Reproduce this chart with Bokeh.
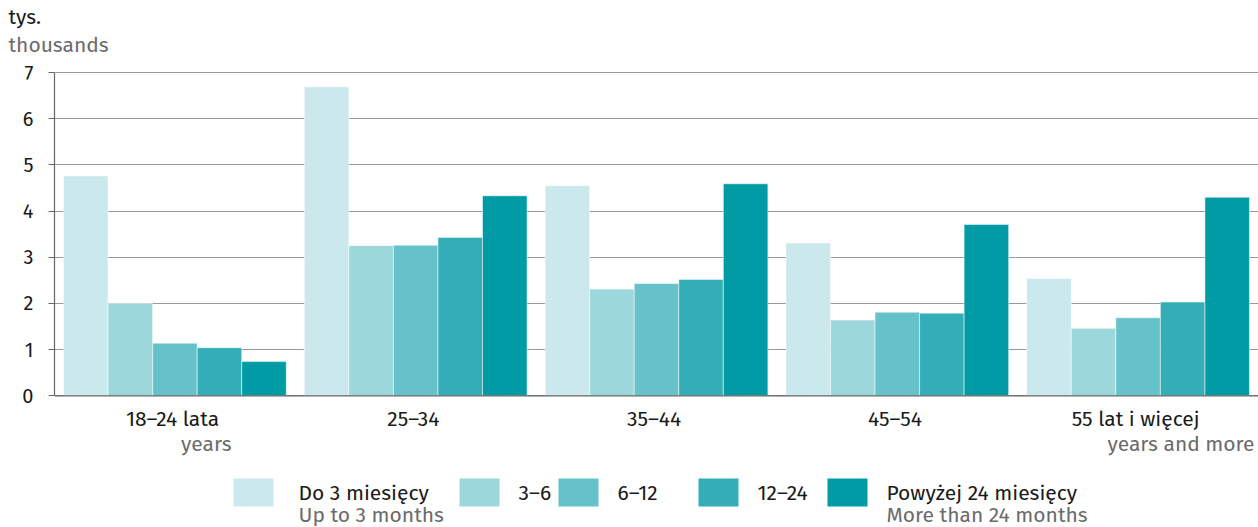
from bokeh.plotting import figure
from bokeh.models import Range1d, FixedTicker, ColumnDataSource, Title, Span
from bokeh.core.properties import value
from bokeh.embed import file_html
from bokeh.resources import INLINE

# ---------------- data ----------------
categories = ["18–24 lata", "25–34", "35–44", "45–54", "55 lat i więcej"]
category_sub = ["years", "", "", "", "years and more"]
series_pl = ["Do 3 miesięcy", "3–6", "6–12", "12–24", "Powyżej 24 miesięcy"]
series_en = ["Up to 3 months", "", "", "", "More than 24 months"]
up_to_3 = [4.76, 6.69, 4.55, 3.31, 2.54]
m3_6 = [2.00, 3.25, 2.31, 1.64, 1.46]
m6_12 = [1.14, 3.26, 2.43, 1.81, 1.69]
m12_24 = [1.04, 3.43, 2.52, 1.79, 2.03]
over_24 = [0.74, 4.33, 4.59, 3.71, 4.30]
y_ticks = [0, 1, 2, 3, 4, 5, 6, 7]
unit_pl = "tys."
unit_en = "thousands"

# ---------------- style / layout (page pixels) ----------------
colors = ["#CBE9EC", "#9BD7DB", "#66C2C9", "#33AEB7", "#009BA5"]
FONT = "Fira Sans, Noto Sans"
FS = "21px"
BLACK = "#1a1a1a"
GREY_TXT = "#6b6b6b"
GRID = "#999999"
AXIS = "#666666"
W, H = 1258, 527
AX_X = 54          # y-axis line
FRAME_TOP = 57     # top of plotting frame
Y7_PX, Y0_PX = 72, 395.3
BAR_W = 0.185

series = [up_to_3, m3_6, m6_12, m12_24, over_24]
n = len(categories)
ymax = y_ticks[-1]
px_per_unit = (Y0_PX - Y7_PX) / ymax
px_per_x = (W - AX_X) / n

def xd(page_x):
    return (page_x - AX_X) / px_per_x

def yd(page_y):
    return (Y0_PX - page_y) / px_per_unit

p = figure(width=W, height=H, output_backend="svg", toolbar_location=None,
           x_range=Range1d(0, n), y_range=Range1d(yd(H), yd(FRAME_TOP)),
           min_border_left=AX_X, min_border_right=0, min_border_top=FRAME_TOP,
           min_border_bottom=0)
p.outline_line_color = None

# bars
for j, vals in enumerate(series):
    xs = [i + 0.5 + (j - 2) * BAR_W for i in range(n)]
    src = ColumnDataSource(dict(x=xs, top=vals))
    p.vbar(x="x", top="top", width=BAR_W, bottom=0, source=src,
           fill_color=colors[j], line_color="white", line_alpha=0.5, line_width=1)

# x axis hidden; baseline at zero drawn as a span
p.xaxis.visible = False
p.xgrid.grid_line_color = None
p.add_layout(Span(location=0, dimension="width", line_color=AXIS, line_width=1.2))

# y axis
p.yaxis.ticker = FixedTicker(ticks=y_ticks)
p.yaxis.bounds = (0, ymax)
p.yaxis.axis_line_color = AXIS
p.yaxis.axis_line_width = 1.2
p.yaxis.major_tick_line_color = AXIS
p.yaxis.major_tick_out = 6
p.yaxis.major_tick_in = 0
p.yaxis.minor_tick_line_color = None
p.yaxis.major_label_text_font = FONT
p.yaxis.major_label_text_font_size = "20px"
p.yaxis.major_label_text_color = BLACK
p.yaxis.major_label_standoff = 15
p.ygrid.grid_line_color = GRID
p.ygrid.grid_line_width = 1

# unit titles (top left): the figure title is the outer one
p.title.text = unit_pl
p.title.align = "left"
p.title.offset = 8 - AX_X
p.title.text_font = FONT
p.title.text_font_size = FS
p.title.text_font_style = "normal"
p.title.text_color = BLACK
p.title.standoff = 0
t2 = Title(text=unit_en, align="left", offset=8 - AX_X, text_font=FONT,
           text_font_size=FS, text_font_style="normal", text_color=GREY_TXT, standoff=0)
p.add_layout(t2, "above")

# category labels
p.text(x=[i + 0.5 - 0.01 for i in range(n)], y=[yd(418)] * n, text=categories,
       text_font=value(FONT), text_font_size=FS, text_color=BLACK,
       text_align="center", text_baseline="middle")
sub_right = [231, None, None, None, 1254]
sub_x = [xd(sub_right[i]) for i in range(n) if category_sub[i]]
sub_t = [s for s in category_sub if s]
p.text(x=sub_x, y=[yd(443)] * len(sub_t), text=sub_t,
       text_font=value(FONT), text_font_size=FS, text_color=GREY_TXT,
       text_align="right", text_baseline="middle")

# legend (drawn inside the frame below the axis)
sq_left = [233, 459, 558, 698, 827]
txt_left = [298, 518, 617, 757, 886]
sq_w, sq_top, sq_bot = 40, 478, 506
p.quad(left=[xd(x) for x in sq_left], right=[xd(x + sq_w) for x in sq_left],
       bottom=[yd(sq_bot)] * n, top=[yd(sq_top)] * n,
       fill_color=colors, line_color=None)
p.text(x=[xd(x) for x in txt_left], y=[yd(492)] * n, text=series_pl,
       text_font=value(FONT), text_font_size=FS, text_color=BLACK,
       text_baseline="middle")
en_x = [xd(txt_left[i]) for i in range(n) if series_en[i]]
en_t = [t for t in series_en if t]
p.text(x=en_x, y=[yd(514)] * len(en_t), text=en_t,
       text_font=value(FONT), text_font_size=FS, text_color=GREY_TXT,
       text_baseline="middle")

open("out.html", "w").write(file_html(p, INLINE))
